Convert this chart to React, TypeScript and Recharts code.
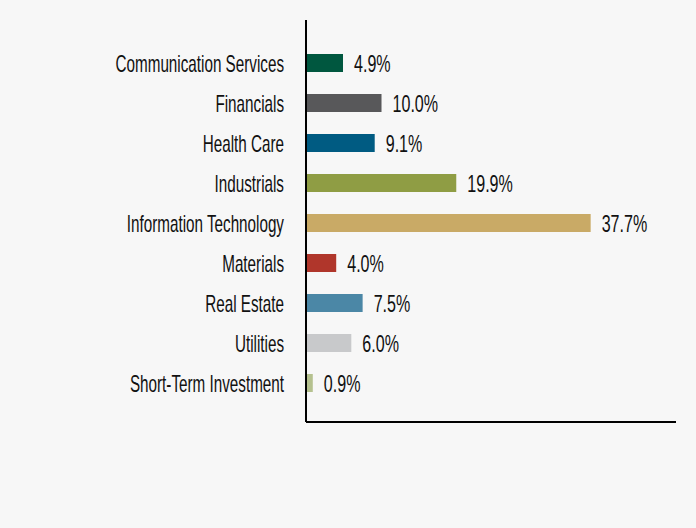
import React from "react";
import { BarChart, Bar, XAxis, YAxis, Cell, LabelList } from "recharts";

const categories = [
  "Communication Services",
  "Financials",
  "Health Care",
  "Industrials",
  "Information Technology",
  "Materials",
  "Real Estate",
  "Utilities",
  "Short-Term Investment",
];
const values = [4.9, 10.0, 9.1, 19.9, 37.7, 4.0, 7.5, 6.0, 0.9];
const colors = [
  "#00573f",
  "#58585a",
  "#005b82",
  "#8f9d44",
  "#c9aa66",
  "#b0362b",
  "#4b87a6",
  "#c8c9cb",
  "#b5c18f",
];

const data = categories.map((name, i) => ({ name, value: values[i] }));

const FONT = "'Liberation Sans', Arial, sans-serif";

const CategoryTick = (props: any) => {
  const { x, y, payload } = props;
  return (
    <text
      x={0}
      y={0}
      transform={`translate(${x},${y + 8.5}) scale(0.635,1)`}
      textAnchor="end"
      fill="#111"
      fontSize={24}
      fontFamily={FONT}
    >
      {payload.value}
    </text>
  );
};

const ValueLabel = (props: any) => {
  const { x, y, width, height, value } = props;
  return (
    <text
      x={0}
      y={0}
      transform={`translate(${x + width + 11},${y + height / 2 + 8.5}) scale(0.67,1)`}
      textAnchor="start"
      fill="#111"
      fontSize={24}
      fontFamily={FONT}
    >
      {`${Number(value).toFixed(1)}%`}
    </text>
  );
};

export default function App() {
  return (
    <div
      style={{
        position: "absolute",
        left: 0,
        top: 0,
        width: 696,
        height: 528,
        background: "#f7f7f7",
      }}
    >
      <BarChart
        width={696}
        height={528}
        data={data}
        layout="vertical"
        margin={{ top: 20, right: 20, bottom: 105, left: 0 }}
      >
        <XAxis
          type="number"
          domain={[0, 49]}
          tick={false}
          tickLine={false}
          height={1}
          axisLine={{ stroke: "#000", strokeWidth: 2 }}
        />
        <YAxis
          type="category"
          dataKey="name"
          width={306}
          padding={{ top: 23, bottom: 19 }}
          axisLine={{ stroke: "#000", strokeWidth: 2 }}
          tickLine={false}
          tickSize={0}
          tickMargin={22}
          interval={0}
          tick={<CategoryTick />}
        />
        <Bar dataKey="value" barSize={18} isAnimationActive={false}>
          {data.map((d, i) => (
            <Cell key={d.name} fill={colors[i]} />
          ))}
          <LabelList dataKey="value" content={<ValueLabel />} />
        </Bar>
      </BarChart>
    </div>
  );
}
